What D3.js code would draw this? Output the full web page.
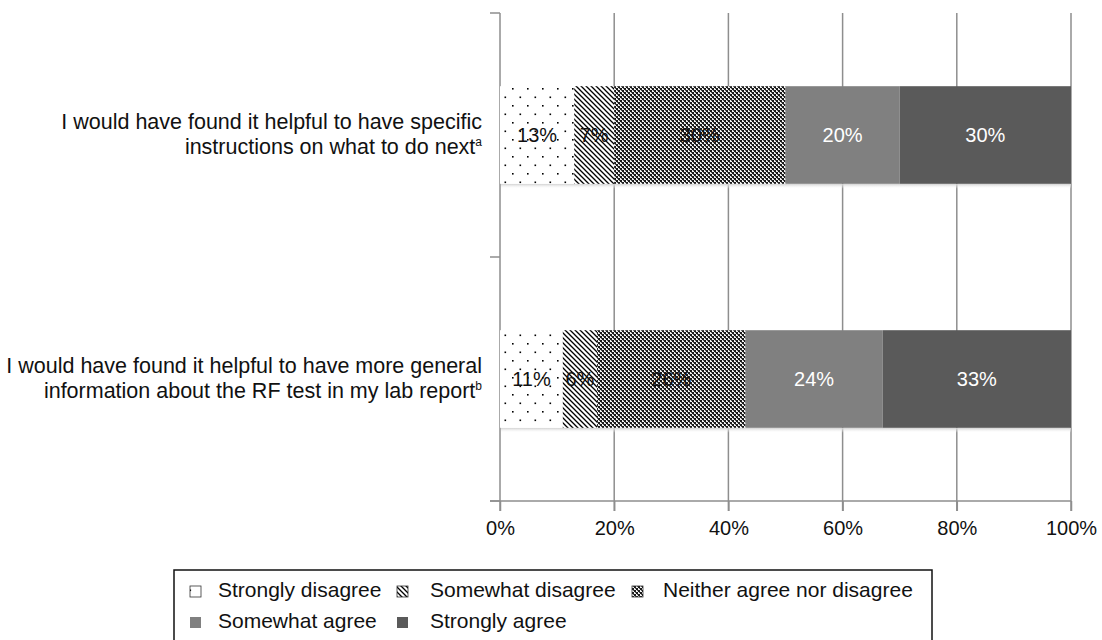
<!DOCTYPE html>
<html><head><meta charset="utf-8">
<script src="https://cdn.jsdelivr.net/npm/d3@7"></script>
<style>body{margin:0;background:#fff}svg{display:block}text{font-family:"Liberation Sans",Arial,sans-serif}</style>
</head><body>
<svg id="c" width="1102" height="640"></svg>
<script>
const categories = ["specific", "general"];
const categoryLines = [
  ["I would have found it helpful to have specific", "instructions on what to do next"],
  ["I would have found it helpful to have more general", "information about the RF test in my lab report"]
];
const categoryNotes = ["a", "b"];
const seriesNames = ["Strongly disagree", "Somewhat disagree", "Neither agree nor disagree", "Somewhat agree", "Strongly agree"];
const stronglyDisagree = [13, 11];
const somewhatDisagree = [7, 6];
const neitherAgree = [30, 26];
const somewhatAgree = [20, 24];
const stronglyAgree = [30, 33];
const xTicks = [0, 20, 40, 60, 80, 100];

const seriesValues = [stronglyDisagree, somewhatDisagree, neitherAgree, somewhatAgree, stronglyAgree];
const fills = ["url(#pDots)", "url(#pDiag)", "url(#pCheck)", "#808080", "#5a5a5a"];
const labelColors = ["#111", "#111", "#111", "#fff", "#fff"];

const svg = d3.select("#c");
const defs = svg.append("defs");
const pd = defs.append("pattern").attr("id","pDots").attr("patternUnits","userSpaceOnUse").attr("width",15).attr("height",17);
pd.append("rect").attr("width",15).attr("height",17).attr("fill","#fff");
pd.append("rect").attr("x",2).attr("y",3).attr("width",1.6).attr("height",1.6).attr("fill","#000");
pd.append("rect").attr("x",9.5).attr("y",11.5).attr("width",1.6).attr("height",1.6).attr("fill","#000");
const pg = defs.append("pattern").attr("id","pDiag").attr("patternUnits","userSpaceOnUse").attr("width",5).attr("height",5);
pg.append("rect").attr("width",5).attr("height",5).attr("fill","#fff");
pg.append("path").attr("d","M-1,-1L6,6M-1,4L1,6M4,-1L6,1").attr("stroke","#000").attr("stroke-width",1.3);
const pc = defs.append("pattern").attr("id","pCheck").attr("patternUnits","userSpaceOnUse").attr("width",4).attr("height",4);
pc.append("rect").attr("width",4).attr("height",4).attr("fill","#f2f2f2");
pc.append("rect").attr("x",0).attr("y",0).attr("width",2).attr("height",2).attr("fill","#1a1a1a");
pc.append("rect").attr("x",2).attr("y",2).attr("width",2).attr("height",2).attr("fill","#1a1a1a");
pc.append("rect").attr("x",3).attr("y",0).attr("width",1).attr("height",1).attr("fill","#555");
pc.append("rect").attr("x",1).attr("y",2).attr("width",1).attr("height",1).attr("fill","#555");

const x = d3.scaleLinear().domain([0,100]).range([500,1071]);
const yOuter = d3.scaleBand().domain(categories).range([13,501]);
const y = d3.scaleBand().domain(categories).range([13,501]).paddingInner(0.6).paddingOuter(0.3);

const gridColor = "#8e8e8e";
svg.append("g").selectAll("line").data(xTicks.filter(d=>d>0)).join("line")
  .attr("x1",d=>x(d)).attr("x2",d=>x(d)).attr("y1",13).attr("y2",511)
  .attr("stroke",gridColor).attr("stroke-width",1.5);
const xAxis = d3.axisBottom(x).tickValues(xTicks).tickFormat(d=>d+"%").tickSize(10).tickSizeOuter(0);
const gx = svg.append("g").attr("transform","translate(0,501)").call(xAxis);
gx.select(".domain").attr("d","M490,0H1071").attr("stroke",gridColor).attr("stroke-width",1.5);
gx.selectAll(".tick line").attr("stroke",gridColor).attr("stroke-width",1.5);
gx.selectAll(".tick text").attr("font-size",20).attr("fill","#111").attr("dy",null).attr("y",34)
  .style("font-family",'"Liberation Sans",Arial,sans-serif');
svg.append("line").attr("x1",500).attr("x2",500).attr("y1",13).attr("y2",511).attr("stroke",gridColor).attr("stroke-width",1.5);
const yTickPos = categories.map(c=>yOuter(c)).concat([501]);
svg.append("g").selectAll("line").data(yTickPos).join("line")
  .attr("x1",490).attr("x2",500).attr("y1",d=>d).attr("y2",d=>d).attr("stroke",gridColor).attr("stroke-width",1.5);

const rows = categories.map((c,i)=>{const o={cat:c}; seriesNames.forEach((s,j)=>o[s]=seriesValues[j][i]); return o;});
const stacked = d3.stack().keys(seriesNames)(rows);

const grad = defs.append("linearGradient").attr("id","shad").attr("x1",0).attr("x2",0).attr("y1",0).attr("y2",1);
grad.append("stop").attr("offset","0%").attr("stop-color","#cfcfcf");
grad.append("stop").attr("offset","100%").attr("stop-color","#fff").attr("stop-opacity",0);
svg.append("g").selectAll("rect").data(categories).join("rect")
  .attr("x",x(0)+1).attr("width",x(100)-x(0)-1).attr("y",c=>y(c)+y.bandwidth()).attr("height",5)
  .attr("fill","url(#shad)");

const gBars = svg.append("g");
stacked.forEach((layer,j)=>{
  gBars.append("g").selectAll("rect").data(layer).join("rect")
    .attr("x",d=>x(d[0])).attr("width",d=>x(d[1])-x(d[0]))
    .attr("y",d=>y(d.data.cat)).attr("height",y.bandwidth())
    .attr("fill",fills[j]);
});
stacked.forEach((layer,j)=>{
  gBars.append("g").selectAll("text").data(layer).join("text")
    .attr("x",d=>x((d[0]+d[1])/2)).attr("y",d=>y(d.data.cat)+y.bandwidth()/2+7)
    .attr("text-anchor","middle").attr("font-size",20).attr("fill",labelColors[j])
    .text(d=>(d[1]-d[0])+"%");
});

categories.forEach((c,i)=>{
  const cy = y(c)+y.bandwidth()/2;
  svg.append("text").attr("text-anchor","end").attr("font-size",21.5).attr("fill","#111")
    .attr("x",482).attr("y",cy-6).text(categoryLines[i][0]);
  const t2 = svg.append("text").attr("text-anchor","end").attr("font-size",21.5).attr("fill","#111").attr("x",482).attr("y",cy+19);
  t2.append("tspan").text(categoryLines[i][1]);
  t2.append("tspan").attr("font-size",12).attr("dy",-8).text(categoryNotes[i]);
});

svg.append("rect").attr("x",174).attr("y",570).attr("width",758).attr("height",100)
  .attr("fill","#fff").attr("stroke","#111").attr("stroke-width",1.5);
const legPos = [[190,218,597],[397,430,597],[632,663,597],[190,218,628],[397,430,628]];
seriesNames.forEach((s,j)=>{
  const [ix,tx,by] = legPos[j];
  svg.append("rect").attr("x",ix).attr("y",by-11).attr("width",11).attr("height",11)
    .attr("fill",fills[j]).attr("stroke",j<3?"#333":"none").attr("stroke-width",0.8);
  svg.append("text").attr("x",tx).attr("y",by).attr("font-size",21).attr("fill","#111").text(s);
});
</script>
</body></html>
